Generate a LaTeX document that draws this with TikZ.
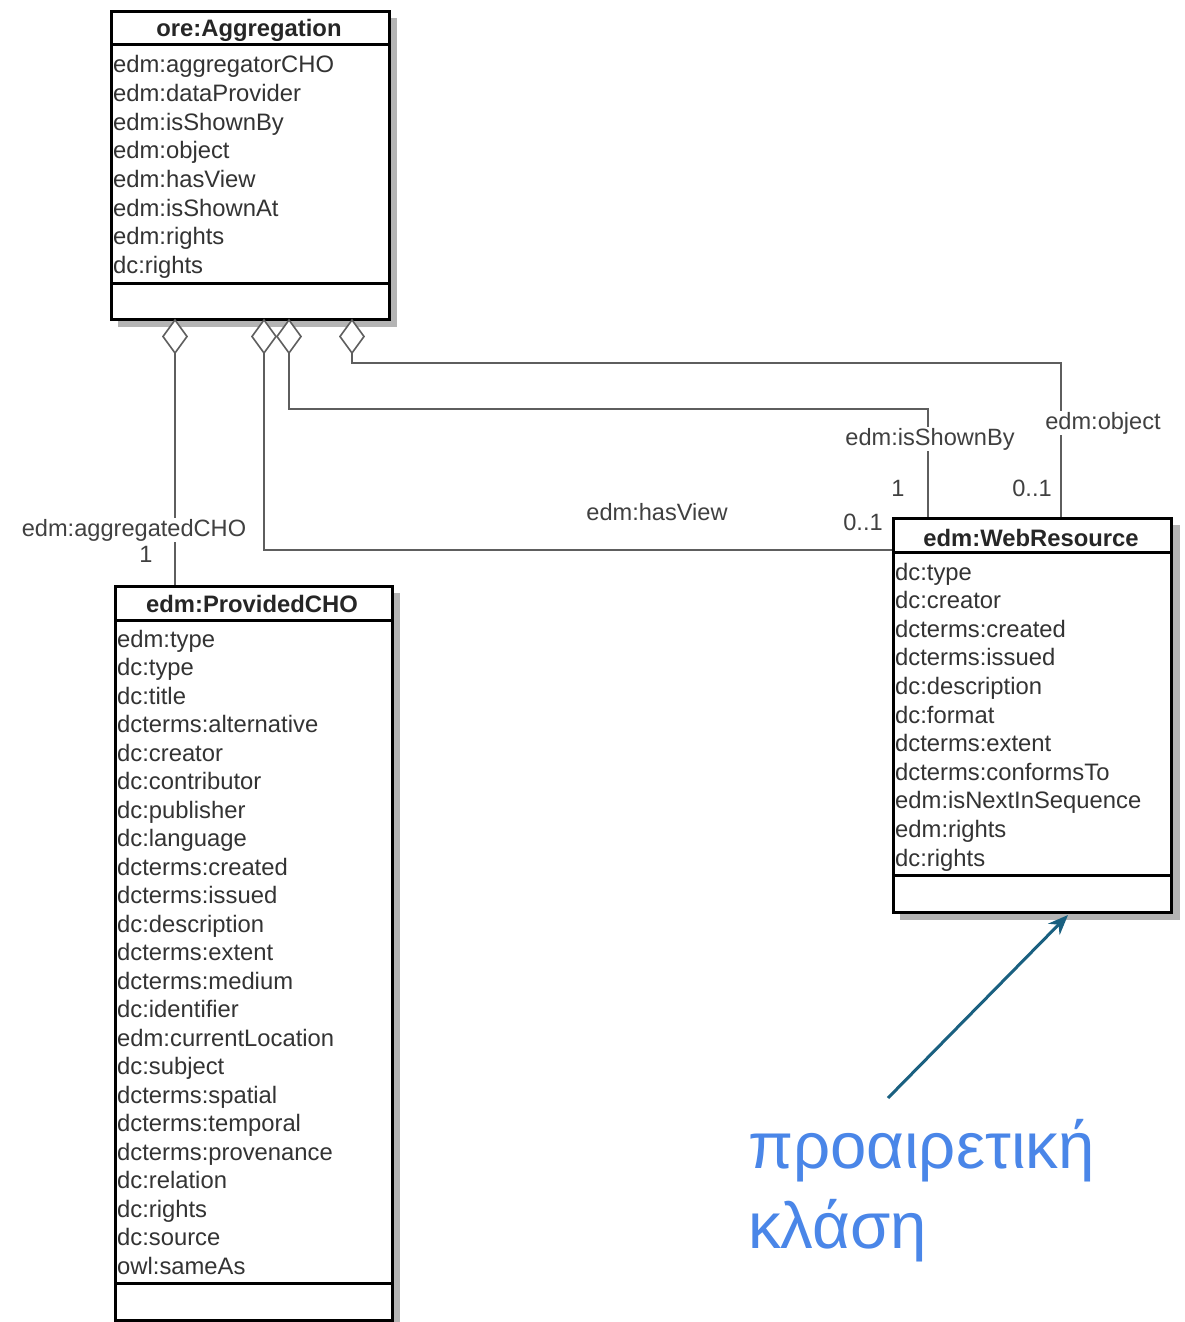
\documentclass[tikz,border=0pt]{standalone}
\usepackage{fontspec}
\setmainfont{Liberation Sans}
\usetikzlibrary{arrows.meta}
\definecolor{conn}{HTML}{5E5E5E}
\definecolor{attrcol}{HTML}{333333}
\definecolor{labcol}{HTML}{404040}
\definecolor{shadowgray}{HTML}{B4B4B4}
\definecolor{arrowcol}{HTML}{1A6080}
\definecolor{greek}{HTML}{4A86E8}
\tikzset{
  classbox/.style={draw=black, line width=3pt, fill=white, inner sep=0, anchor=north west},
  divider/.style={draw=black, line width=3pt},
  shadowbox/.style={fill=shadowgray},
  titletext/.style={font=\fontsize{23.8}{28}\selectfont\bfseries, text=black!85, inner sep=0},
  attr/.style={anchor=west, inner sep=0, font=\fontsize{23.8}{28}\selectfont, text=attrcol, text height=16pt, text depth=6pt},
  conline/.style={draw=conn, line width=2pt},
  dia/.style={draw=conn, line width=1.6pt, fill=white},
  lab/.style={font=\fontsize{23.6}{28}\selectfont, text=labcol, inner sep=1pt},
  labbg/.style={lab, fill=white},
  note/.style={anchor=base west, inner sep=0, font=\fontsize{65.3}{80}\selectfont, text=greek},
  pointer/.style={draw=arrowcol, line width=3pt, -{Stealth[length=20pt,width=16pt]}}
}
\begin{document}
\begin{tikzpicture}[x=1pt,y=-1pt]
\useasboundingbox[fill=white] (0,0) rectangle (1185,1322);

% ---------- ore:Aggregation ----------
\fill[shadowgray] (118,18) rectangle (397,327);
\node[classbox, minimum width=278pt, minimum height=308pt] (agg) at (110,10) {};
\draw[divider] (110,45) -- (388,45);
\draw[divider] (110,283) -- (388,283);
\node[titletext] (aggT) at (249,30) {ore:Aggregation};
\foreach \t [count=\i] in {edm:aggregatorCHO,edm:dataProvider,edm:isShownBy,edm:object,edm:hasView,edm:isShownAt,edm:rights,dc:rights}
  \node[attr] (aggA\i) at (113,{68+28.6*(\i-1)}) {\t};

% ---------- edm:ProvidedCHO ----------
\fill[shadowgray] (122,593) rectangle (400,1330);
\node[classbox, minimum width=277pt, minimum height=734pt] (pcho) at (114,585) {};
\draw[divider] (114,620) -- (391,620);
\draw[divider] (114,1283) -- (391,1283);
\node[titletext] (pchoT) at (252,604) {edm:ProvidedCHO};
\foreach \t [count=\i] in {edm:type,dc:type,dc:title,dcterms:alternative,dc:creator,dc:contributor,dc:publisher,dc:language,dcterms:created,dcterms:issued,dc:description,dcterms:extent,dcterms:medium,dc:identifier,edm:currentLocation,dc:subject,dcterms:spatial,dcterms:temporal,dcterms:provenance,dc:relation,dc:rights,dc:source,owl:sameAs}
  \node[attr] (pchoA\i) at (117,{642+28.5*(\i-1)}) {\t};

% ---------- edm:WebResource ----------
\fill[shadowgray] (900,525) rectangle (1180,920);
\node[classbox, minimum width=278pt, minimum height=394pt] (web) at (892,517) {};
\draw[divider] (892,552) -- (1170,552);
\draw[divider] (892,875) -- (1170,875);
\node[titletext] (webT) at (1031,538) {edm:WebResource};
\foreach \t [count=\i] in {dc:type,dc:creator,dcterms:created,dcterms:issued,dc:description,dc:format,dcterms:extent,dcterms:conformsTo,edm:isNextInSequence,edm:rights,dc:rights}
  \node[attr] (webA\i) at (895,{575+28.6*(\i-1)}) {\t};

% ---------- aggregation diamonds ----------
\foreach \n/\x in {dA/175,dB/264,dC/289,dD/352}{
  \coordinate (\n top) at (\x,320);
  \coordinate (\n) at (\x,353);
}
% connectors
\draw[conline] (dA) -- (dA |- pcho.north);
\draw[conline] (dB) |- (web.west |- 0,550);
\draw[conline] (dC) |- (928,409) -- (928,517);
\draw[conline] (dD) |- (1061,363) -- (1061,517);
% diamonds on top
\foreach \n in {dA,dB,dC,dD}
  \draw[dia] (\n top) -- ++(12,16.5) -- (\n) -- ++(-12,-16.5) -- cycle;

% labels
\node[labbg] (lagg) at (134,530) {edm:aggregatedCHO};
\node[lab] (lagg1) at (146,554) {1};
\node[lab] (lview) at (657,512) {edm:hasView};
\node[lab] (lview1) at (863,522) {0..1};
\node[labbg] (lshown) at (930,439) {edm:isShownBy};
\node[lab] (lshown1) at (898,488) {1};
\node[labbg] (lobj) at (1103,423) {edm:object};
\node[lab] (lobj1) at (1032,488) {0..1};

% ---------- note ----------
\node[note] (g1) at (748,1168) {προαιρετική};
\node[note] (g2) at (748,1248) {κλάση};
\coordinate (ptail) at (888,1098);
\draw[pointer] (ptail) -- (1068,915);
\end{tikzpicture}
\end{document}
